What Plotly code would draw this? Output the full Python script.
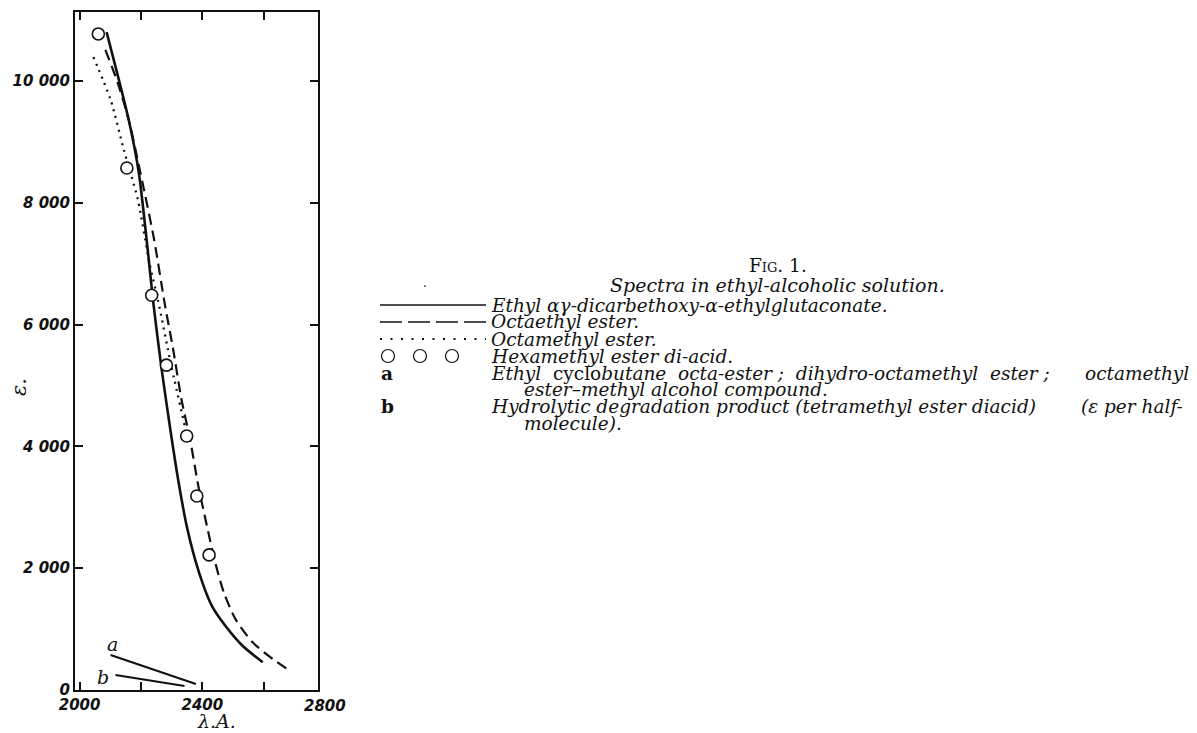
import plotly.graph_objects as go

# ---------------- data ----------------
wl_solid = [2088, 2160, 2193, 2223, 2239, 2266, 2294, 2321, 2349, 2376, 2404, 2431, 2475, 2531, 2597]
eps_solid = [10800, 9360, 8490, 7180, 6410, 5317, 4333, 3459, 2694, 2148, 1710, 1382, 1054, 726, 454]

wl_dash = [2084, 2124, 2160, 2210, 2243, 2277, 2305, 2332, 2360, 2387, 2415, 2442, 2470, 2508, 2564, 2630, 2685]
eps_dash = [10510, 9970, 9360, 8210, 7390, 6355, 5590, 4770, 4115, 3350, 2694, 2093, 1601, 1164, 782, 508, 316]

wl_dot = [2045, 2101, 2144, 2190, 2228, 2255, 2299, 2343]
eps_dot = [10390, 9690, 8870, 8050, 7000, 6410, 5317, 4333]

wl_circ = [2061, 2154, 2235, 2283, 2349, 2382, 2422]
eps_circ = [10770, 8570, 6480, 5333, 4169, 3185, 2218]

wl_a = [2101, 2379]
eps_a = [574, 98]
wl_b = [2117, 2342]
eps_b = [246, 66]

x_ticks = [2000, 2200, 2400, 2600]
x_ticktext = ["2000", "", "2400", ""]
y_ticks = [0, 2000, 4000, 6000, 8000, 10000]
y_ticktext = ["0", "2 000", "4 000", "6 000", "8 000", "10 000"]

legend_rows = [
    "Ethyl αγ-dicarbethoxy-α-ethylglutaconate.",
    "Octaethyl ester.",
    "Octamethyl ester.",
    "Hexamethyl ester di-acid.",
]

# ---------------- figure ----------------
O = 8                      # page body margin
W, H = 1197 - O, 733 - O
BLACK = "#111111"
SERIF = "DejaVu Serif"
FS = 18.5
NB = "\u00a0"


def px(x):
    return (x - O) / W


def py(y):
    return 1 - (y - O) / H


fig = go.Figure()

fig.add_trace(go.Scatter(x=wl_solid, y=eps_solid, mode="lines",
                         line=dict(color=BLACK, width=2.6, shape="spline", smoothing=0.7),
                         hoverinfo="skip", showlegend=False))
fig.add_trace(go.Scatter(x=wl_dash, y=eps_dash, mode="lines",
                         line=dict(color=BLACK, width=2.2, dash="11px,6px", shape="spline", smoothing=0.7),
                         hoverinfo="skip", showlegend=False))
fig.add_trace(go.Scatter(x=wl_dot, y=eps_dot, mode="lines",
                         line=dict(color=BLACK, width=2.3, dash="2px,5px", shape="spline", smoothing=0.7),
                         hoverinfo="skip", showlegend=False))
fig.add_trace(go.Scatter(x=wl_a, y=eps_a, mode="lines",
                         line=dict(color=BLACK, width=2.2), hoverinfo="skip", showlegend=False))
fig.add_trace(go.Scatter(x=wl_b, y=eps_b, mode="lines",
                         line=dict(color=BLACK, width=2.2), hoverinfo="skip", showlegend=False))
fig.add_trace(go.Scatter(x=wl_circ, y=eps_circ, mode="markers",
                         marker=dict(symbol="circle", size=12, color="white",
                                     line=dict(color=BLACK, width=1.6)),
                         hoverinfo="skip", showlegend=False))

tickfont = dict(family="DejaVu Sans", size=15, color=BLACK, style="italic", weight="bold")

fig.update_layout(
    width=W, height=H,
    margin=dict(l=0, r=0, t=0, b=0),
    template="none",
    paper_bgcolor="white", plot_bgcolor="white",
    showlegend=False,
    xaxis=dict(domain=[px(75), px(318)], range=[1985, 2777], tickvals=x_ticks, ticktext=x_ticktext,
               ticks="inside", ticklen=8, tickwidth=2, tickcolor=BLACK,
               showline=True, linewidth=2, linecolor=BLACK, mirror="ticks",
               showgrid=False, zeroline=False, tickfont=tickfont, automargin=False),
    yaxis=dict(domain=[py(690), py(12)], range=[0, 11130], tickvals=y_ticks, ticktext=y_ticktext,
               ticks="inside", ticklen=8, tickwidth=2, tickcolor=BLACK,
               showline=True, linewidth=2, linecolor=BLACK, mirror="ticks",
               showgrid=False, zeroline=False, tickfont=tickfont, automargin=False),
)

ann = []


def text(x, y, s, size=FS, style="italic", anchor="left", variant="normal", angle=0, family=SERIF,
         weight="normal"):
    ann.append(dict(x=px(x), y=py(y), xref="paper", yref="paper", text=s, showarrow=False,
                    xanchor=anchor, yanchor="middle", textangle=angle, borderpad=0,
                    font=dict(family=family, size=size, color=BLACK, style=style, variant=variant,
                              weight=weight)))


# axis extras
text(325, 706, "2800", size=15, anchor="center", family="DejaVu Sans", weight="bold")
text(216, 721, "λ.A.", size=19, anchor="center")
text(19, 387, "ε.", size=21, anchor="center", angle=-90)

# curve labels a, b (data coordinates)
ann.append(dict(x=2107, y=760, xref="x", yref="y", text="a", showarrow=False,
                font=dict(family=SERIF, size=19, color=BLACK, style="italic")))
ann.append(dict(x=2075, y=215, xref="x", yref="y", text="b", showarrow=False,
                font=dict(family=SERIF, size=19, color=BLACK, style="italic")))

# caption
text(778, 266, "Fig. 1.", size=FS, style="normal", anchor="center", variant="small-caps")
text(777, 285, "Spectra in ethyl-alcoholic solution.", size=19, anchor="center")
text(425, 283, ".", size=12, style="normal", anchor="center")

TX = 490
rows_y = [305, 322, 339, 356, 373, 389, 407, 423]
for s, yy in zip(legend_rows, rows_y[:4]):
    text(TX, yy, s)

text(380, rows_y[4], "a", style="normal", weight="bold")
g = NB + " "
text(TX, rows_y[4],
     "<i>Ethyl</i>" + g + "cyclo<i>butane" + g + "octa-ester ;" + g + "dihydro-octamethyl" + g + "ester ;</i>",
     style="normal")
text(1190, rows_y[4], "octamethyl", anchor="right")
text(TX + 33, rows_y[5], "ester–methyl alcohol compound.")
text(380, rows_y[6], "b", style="normal", weight="bold")
text(TX, rows_y[6], "Hydrolytic degradation product (tetramethyl ester diacid)")
text(1184, rows_y[6], "(ε per half-", anchor="right")
text(TX + 33, rows_y[7], "molecule).")

fig.update_layout(annotations=ann)

# legend key samples (decoration)
shapes = []
L0, L1 = 380, 486
shapes.append(dict(type="line", xref="paper", yref="paper", x0=px(L0), x1=px(L1), y0=py(rows_y[0]), y1=py(rows_y[0]),
                   line=dict(color=BLACK, width=1.3)))
shapes.append(dict(type="line", xref="paper", yref="paper", x0=px(L0), x1=px(L1), y0=py(rows_y[1]), y1=py(rows_y[1]),
                   line=dict(color=BLACK, width=1.3, dash="22px,6px")))
shapes.append(dict(type="line", xref="paper", yref="paper", x0=px(L0), x1=px(L1), y0=py(rows_y[2]), y1=py(rows_y[2]),
                   line=dict(color=BLACK, width=2, dash="2px,8.5px")))
for cx in (388, 420, 452):
    r = 6.5
    shapes.append(dict(type="circle", xref="paper", yref="paper",
                       x0=px(cx - r), x1=px(cx + r), y0=py(rows_y[3] + r), y1=py(rows_y[3] - r),
                       line=dict(color=BLACK, width=1.2)))
fig.update_layout(shapes=shapes)

fig.write_html("out.html")
